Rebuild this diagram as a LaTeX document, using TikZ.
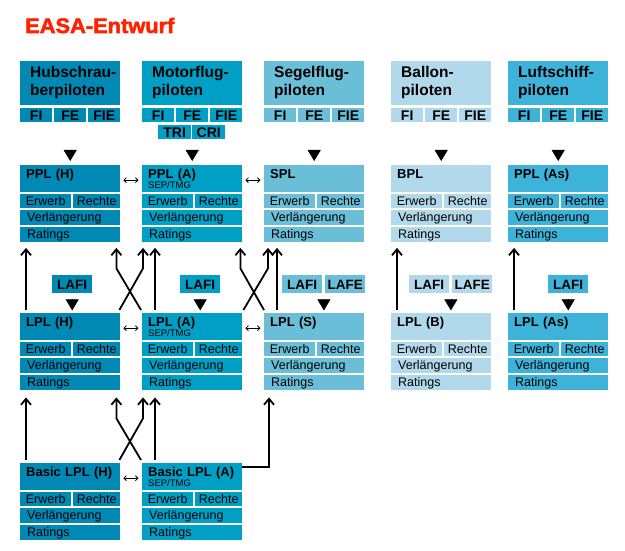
\documentclass[tikz,border=0pt]{standalone}
\usepackage{fontspec}
\setmainfont{Liberation Sans}
\newfontfamily\titelfont{Liberation Sans Bold}[FakeBold=2.5,FakeStretch=1.04]
\usetikzlibrary{arrows.meta}
\hyphenpenalty=10000

\definecolor{titelrot}{HTML}{FF2200}
\definecolor{hubcol}{HTML}{0089B4}
\definecolor{motorcol}{HTML}{00A0C6}
\definecolor{segelcol}{HTML}{6BBED8}
\definecolor{ballcol}{HTML}{B2D9EB}
\definecolor{luftcol}{HTML}{3EB3DA}

\tikzset{
    titel/.style={anchor=base west, inner sep=0pt, text=titelrot, font=\titelfont\fontsize{21}{24}\selectfont},
    kopf/.style={anchor=north west, inner sep=0pt, inner xsep=10pt, text width=80pt, text height=16pt, text depth=28pt, align=left, font=\bfseries\fontsize{15.5}{18.5}\selectfont},
    kuerzel/.style={anchor=north west, inner sep=0pt, minimum width=32pt, minimum height=14pt, text height=10pt, text depth=0pt, font=\bfseries\fontsize{14}{14}\selectfont},
    kurs/.style={anchor=north west, inner sep=0pt, minimum width=40pt, minimum height=18pt, text height=10pt, text depth=0pt, font=\bfseries\fontsize{13.5}{14}\selectfont},
    titelbox/.style={anchor=north west, inner sep=0pt, inner xsep=6pt, text width=88pt, text height=13pt, text depth=14pt, align=left, font=\bfseries\fontsize{13}{15}\selectfont},
    zelle/.style={anchor=north west, inner sep=0pt, minimum height=14pt, text height=9.5pt, text depth=1pt, font=\fontsize{12.5}{14}\selectfont},
    breitzelle/.style={anchor=north west, inner sep=0pt, inner xsep=7pt, text width=86pt, minimum height=15pt, text height=9.5pt, text depth=1.5pt, align=left, font=\fontsize{12.5}{14}\selectfont},
    hoch/.style={line width=1.8pt, -{Straight Barb[length=6pt,width=10pt]}},
    gleich/.style={line width=0.8pt, {Straight Barb[length=2.5pt,width=5pt]}-{Straight Barb[length=2.5pt,width=5pt]}, shorten <=3pt, shorten >=3.5pt},
    spitze/.style={line width=0.4pt, -{Triangle[length=11pt,width=13pt]}}
}

% Lizenzblock: Name, x, y, Farbe, Titel
\newcommand{\lizenz}[5]{%
    \node[titelbox, fill=#4] (#1) at (#2,#3) {#5};
    \node[zelle, fill=#4, minimum width=51pt] (#1-erwerb) at (#2,#3+29) {Erwerb};
    \node[zelle, fill=#4, minimum width=47pt] (#1-rechte) at (#2+53,#3+29) {Rechte};
    \node[breitzelle, fill=#4] (#1-verl) at (#2,#3+45) {Verlängerung};
    \node[breitzelle, fill=#4] (#1-ratings) at (#2,#3+62) {Ratings};
}
\newcommand{\septmg}{\\[-5pt]{\mdseries\fontsize{9.5}{10}\selectfont SEP/TMG}}

\begin{document}
\begin{tikzpicture}[x=1pt,y=-1pt]
    \path[use as bounding box] (0,0) rectangle (625,551);

    \node[titel] (titel) at (25,33) {EASA-Entwurf};

    % Pilotengruppen
    \node[kopf, fill=hubcol] (hubschrauber) at (20,61) {\mbox{Hubschrau-}\\\mbox{berpiloten}};
    \node[kuerzel, fill=hubcol] (hubschrauber-fi) at (20,108) {FI};
    \node[kuerzel, fill=hubcol] (hubschrauber-fe) at (54,108) {FE};
    \node[kuerzel, fill=hubcol] (hubschrauber-fie) at (88,108) {FIE};

    \node[kopf, fill=motorcol] (motorflug) at (142,61) {Motorflug-\\piloten};
    \node[kuerzel, fill=motorcol] (motorflug-fi) at (142,108) {FI};
    \node[kuerzel, fill=motorcol] (motorflug-fe) at (176,108) {FE};
    \node[kuerzel, fill=motorcol] (motorflug-fie) at (210,108) {FIE};
    \node[kuerzel, fill=motorcol, minimum width=33pt] (motorflug-tri) at (158,125) {TRI};
    \node[kuerzel, fill=motorcol, minimum width=33pt] (motorflug-cri) at (192,125) {CRI};

    \node[kopf, fill=segelcol] (segelflug) at (264,61) {Segelflug-\\piloten};
    \node[kuerzel, fill=segelcol] (segelflug-fi) at (264,108) {FI};
    \node[kuerzel, fill=segelcol] (segelflug-fe) at (298,108) {FE};
    \node[kuerzel, fill=segelcol] (segelflug-fie) at (332,108) {FIE};

    \node[kopf, fill=ballcol] (ballon) at (391,61) {Ballon-\\piloten};
    \node[kuerzel, fill=ballcol] (ballon-fi) at (391,108) {FI};
    \node[kuerzel, fill=ballcol] (ballon-fe) at (425,108) {FE};
    \node[kuerzel, fill=ballcol] (ballon-fie) at (459,108) {FIE};

    \node[kopf, fill=luftcol] (luftschiff) at (508,61) {Luftschiff-\\piloten};
    \node[kuerzel, fill=luftcol] (luftschiff-fi) at (508,108) {FI};
    \node[kuerzel, fill=luftcol] (luftschiff-fe) at (542,108) {FE};
    \node[kuerzel, fill=luftcol] (luftschiff-fie) at (576,108) {FIE};

    % Lizenzen
    \lizenz{pplH}{20}{165}{hubcol}{PPL (H)}
    \lizenz{pplA}{142}{165}{motorcol}{PPL (A)\septmg}
    \lizenz{spl}{264}{165}{segelcol}{SPL}
    \lizenz{bpl}{391}{165}{ballcol}{BPL}
    \lizenz{pplAs}{508}{165}{luftcol}{PPL (As)}

    \lizenz{lplH}{20}{313}{hubcol}{LPL (H)}
    \lizenz{lplA}{142}{313}{motorcol}{LPL (A)\septmg}
    \lizenz{lplS}{264}{313}{segelcol}{LPL (S)}
    \lizenz{lplB}{391}{313}{ballcol}{LPL (B)}
    \lizenz{lplAs}{508}{313}{luftcol}{LPL (As)}

    \lizenz{basicH}{20}{463}{hubcol}{Basic LPL (H)}
    \lizenz{basicA}{142}{463}{motorcol}{Basic LPL (A)\septmg}

    % Lehrberechtigungen
    \node[kurs, fill=hubcol] (lafiH) at (52,275) {LAFI};
    \node[kurs, fill=motorcol] (lafiA) at (180,275) {LAFI};
    \node[kurs, fill=segelcol] (lafiS) at (282,275) {LAFI};
    \node[kurs, fill=segelcol] (lafeS) at (325,275) {LAFE};
    \node[kurs, fill=ballcol] (lafiB) at (409,275) {LAFI};
    \node[kurs, fill=ballcol] (lafeB) at (452,275) {LAFE};
    \node[kurs, fill=luftcol] (lafiAs) at (548,275) {LAFI};

    % Dreiecke
    \draw[spitze] ([yshift=15pt]pplH.north) -- ([yshift=4pt]pplH.north);
    \draw[spitze] ([yshift=15pt]pplA.north) -- ([yshift=4pt]pplA.north);
    \draw[spitze] ([yshift=15pt]spl.north) -- ([yshift=4pt]spl.north);
    \draw[spitze] ([yshift=15pt]bpl.north) -- ([yshift=4pt]bpl.north);
    \draw[spitze] ([yshift=15pt]pplAs.north) -- ([yshift=4pt]pplAs.north);

    \draw[spitze] ([yshift=-6pt]lafiH.south) -- ([yshift=-17pt]lafiH.south);
    \draw[spitze] ([yshift=-6pt]lafiA.south) -- ([yshift=-17pt]lafiA.south);
    \draw[spitze] ([xshift=1.5pt,yshift=-6pt]lafiS.south east) -- ([xshift=1.5pt,yshift=-17pt]lafiS.south east);
    \draw[spitze] ([xshift=1.5pt,yshift=-6pt]lafiB.south east) -- ([xshift=1.5pt,yshift=-17pt]lafiB.south east);
    \draw[spitze] ([yshift=-6pt]lafiAs.south) -- ([yshift=-17pt]lafiAs.south);

    % Gleichwertigkeit
    \draw[gleich] ([yshift=-1.5pt]pplH.east) -- ([yshift=-1.5pt]pplA.west);
    \draw[gleich] ([yshift=-1.5pt]pplA.east) -- ([yshift=-1.5pt]spl.west);
    \draw[gleich] ([yshift=-1.5pt]lplH.east) -- ([yshift=-1.5pt]lplA.west);
    \draw[gleich] ([yshift=-1.5pt]lplA.east) -- ([yshift=-1.5pt]lplS.west);
    \draw[gleich] ([yshift=-1.5pt]basicH.east) -- ([yshift=-1.5pt]basicA.west);

    % LPL -> PPL
    \draw[hoch] ([xshift=6pt,yshift=3pt]lplH.north west) -- ([xshift=6pt,yshift=-5.5pt]pplH-ratings.south west);
    \draw[hoch] ([xshift=-1pt,yshift=3pt]lplH.north east) -- ([xshift=1pt,yshift=-26pt]pplA-ratings.south west) -- ([xshift=1pt,yshift=-5.5pt]pplA-ratings.south west);
    \draw[hoch] ([xshift=-1pt,yshift=3pt]lplA.north west) -- ([xshift=-4pt,yshift=-26pt]pplH-ratings.south east) -- ([xshift=-4pt,yshift=-5.5pt]pplH-ratings.south east);
    \draw[hoch] ([xshift=13pt,yshift=3pt]lplA.north west) -- ([xshift=13pt,yshift=-5.5pt]pplA-ratings.south west);
    \draw[hoch] ([xshift=1pt,yshift=3pt]lplA.north east) -- ([xshift=4pt,yshift=-26pt]spl-ratings.south west) -- ([xshift=4pt,yshift=-5.5pt]spl-ratings.south west);
    \draw[hoch] ([yshift=3pt]lplS.north west) -- ([xshift=-2pt,yshift=-26pt]pplA-ratings.south east) -- ([xshift=-2pt,yshift=-5.5pt]pplA-ratings.south east);
    \draw[hoch] ([xshift=13pt,yshift=3pt]lplS.north west) -- ([xshift=13pt,yshift=-5.5pt]spl-ratings.south west);
    \draw[hoch] ([xshift=6pt,yshift=3pt]lplB.north west) -- ([xshift=6pt,yshift=-5.5pt]bpl-ratings.south west);
    \draw[hoch] ([xshift=6pt,yshift=3pt]lplAs.north west) -- ([xshift=6pt,yshift=-5.5pt]pplAs-ratings.south west);

    % Basic LPL -> LPL
    \draw[hoch] ([xshift=6pt,yshift=3pt]basicH.north west) -- ([xshift=6pt,yshift=-7pt]lplH-ratings.south west);
    \draw[hoch] ([xshift=-1pt,yshift=3pt]basicH.north east) -- ([xshift=1pt,yshift=-28pt]lplA-ratings.south west) -- ([xshift=1pt,yshift=-7pt]lplA-ratings.south west);
    \draw[hoch] ([xshift=-1pt,yshift=3pt]basicA.north west) -- ([xshift=-4pt,yshift=-28pt]lplH-ratings.south east) -- ([xshift=-4pt,yshift=-7pt]lplH-ratings.south east);
    \draw[hoch] ([xshift=13pt,yshift=3pt]basicA.north west) -- ([xshift=13pt,yshift=-7pt]lplA-ratings.south west);
    \draw[hoch] ([yshift=-4pt]basicA.north east) -| ([xshift=5pt,yshift=-7pt]lplS-ratings.south west);
\end{tikzpicture}
\end{document}
